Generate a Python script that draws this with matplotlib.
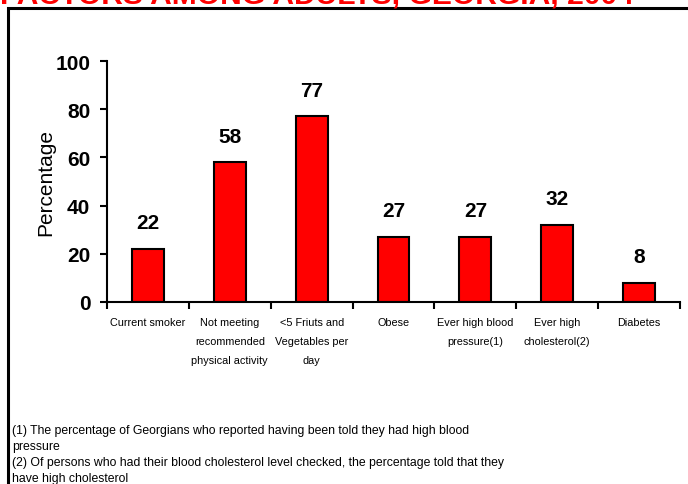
import matplotlib.pyplot as plt
from matplotlib.patches import Rectangle
import numpy as np

# data
categories = ['Current smoker', 'Not meeting\nrecommended\nphysical activity',
              '<5 Friuts and\nVegetables per\nday', 'Obese',
              'Ever high blood\npressure(1)', 'Ever high\ncholesterol(2)', 'Diabetes']
values = [22, 58, 77, 27, 27, 32, 8]
yticks = [0, 20, 40, 60, 80, 100]
title = 'FACTORS AMONG ADULTS, GEORGIA, 2004'
notes = ['(1) The percentage of Georgians who reported having been told they had high blood',
         'pressure',
         '(2) Of persons who had their blood cholesterol level checked, the percentage told that they',
         'have high cholesterol']

plt.rcParams['font.family'] = ['Liberation Sans', 'DejaVu Sans']

fig = plt.figure(figsize=(6.88, 4.85), dpi=100)

# outer frame, running off the right and bottom edges
fig.patches.append(Rectangle((8 / 688, -0.1), 1.0, 1 - 9 / 485 + 0.1,
                             transform=fig.transFigure, fill=False,
                             edgecolor='black', linewidth=2.2))

# title, mostly cut off at the top
fig.text(0.0, 1 - 4 / 485, title, color='red', fontsize=21.6, fontweight='bold',
         ha='left', va='baseline')

ax = fig.add_axes([107 / 688, 1 - 303 / 485, (680 - 107) / 688, (303 - 62) / 485])
x = np.arange(len(categories))
bars = ax.bar(x, values, width=0.39, color='#FF0000', edgecolor='black', linewidth=1.5)

for xi, v in zip(x, values):
    ax.annotate(str(v), (xi, v), xytext=(0, 12), textcoords='offset points',
                ha='center', va='bottom', fontsize=15, fontweight='bold')

ax.set_xlim(-0.5, len(categories) - 0.5)
ax.set_ylim(0, 100)
ax.set_yticks(yticks)
ax.set_yticklabels([str(t) for t in yticks], fontsize=15, fontweight='bold')
ax.set_ylabel('Percentage', fontsize=15, labelpad=0)

ax.set_xticks(x)
ax.set_xticklabels(categories, fontsize=7.8, linespacing=2.1, va='top')
ax.set_xticks(np.arange(-0.5, len(categories)), minor=True)
ax.tick_params(axis='x', which='major', length=0, pad=11)
ax.tick_params(axis='x', which='minor', length=5, width=1.5, direction='out')
ax.tick_params(axis='y', length=5, width=1.5, direction='out', pad=7)

for s in ['top', 'right']:
    ax.spines[s].set_visible(False)
for s in ['left', 'bottom']:
    ax.spines[s].set_linewidth(1.5)

y0 = 1 - 431 / 485
for i, line in enumerate(notes):
    fig.text(12 / 688, y0 - i * 16 / 485, line, fontsize=8.8, ha='left', va='center')

fig.savefig('out.png', dpi=100)
